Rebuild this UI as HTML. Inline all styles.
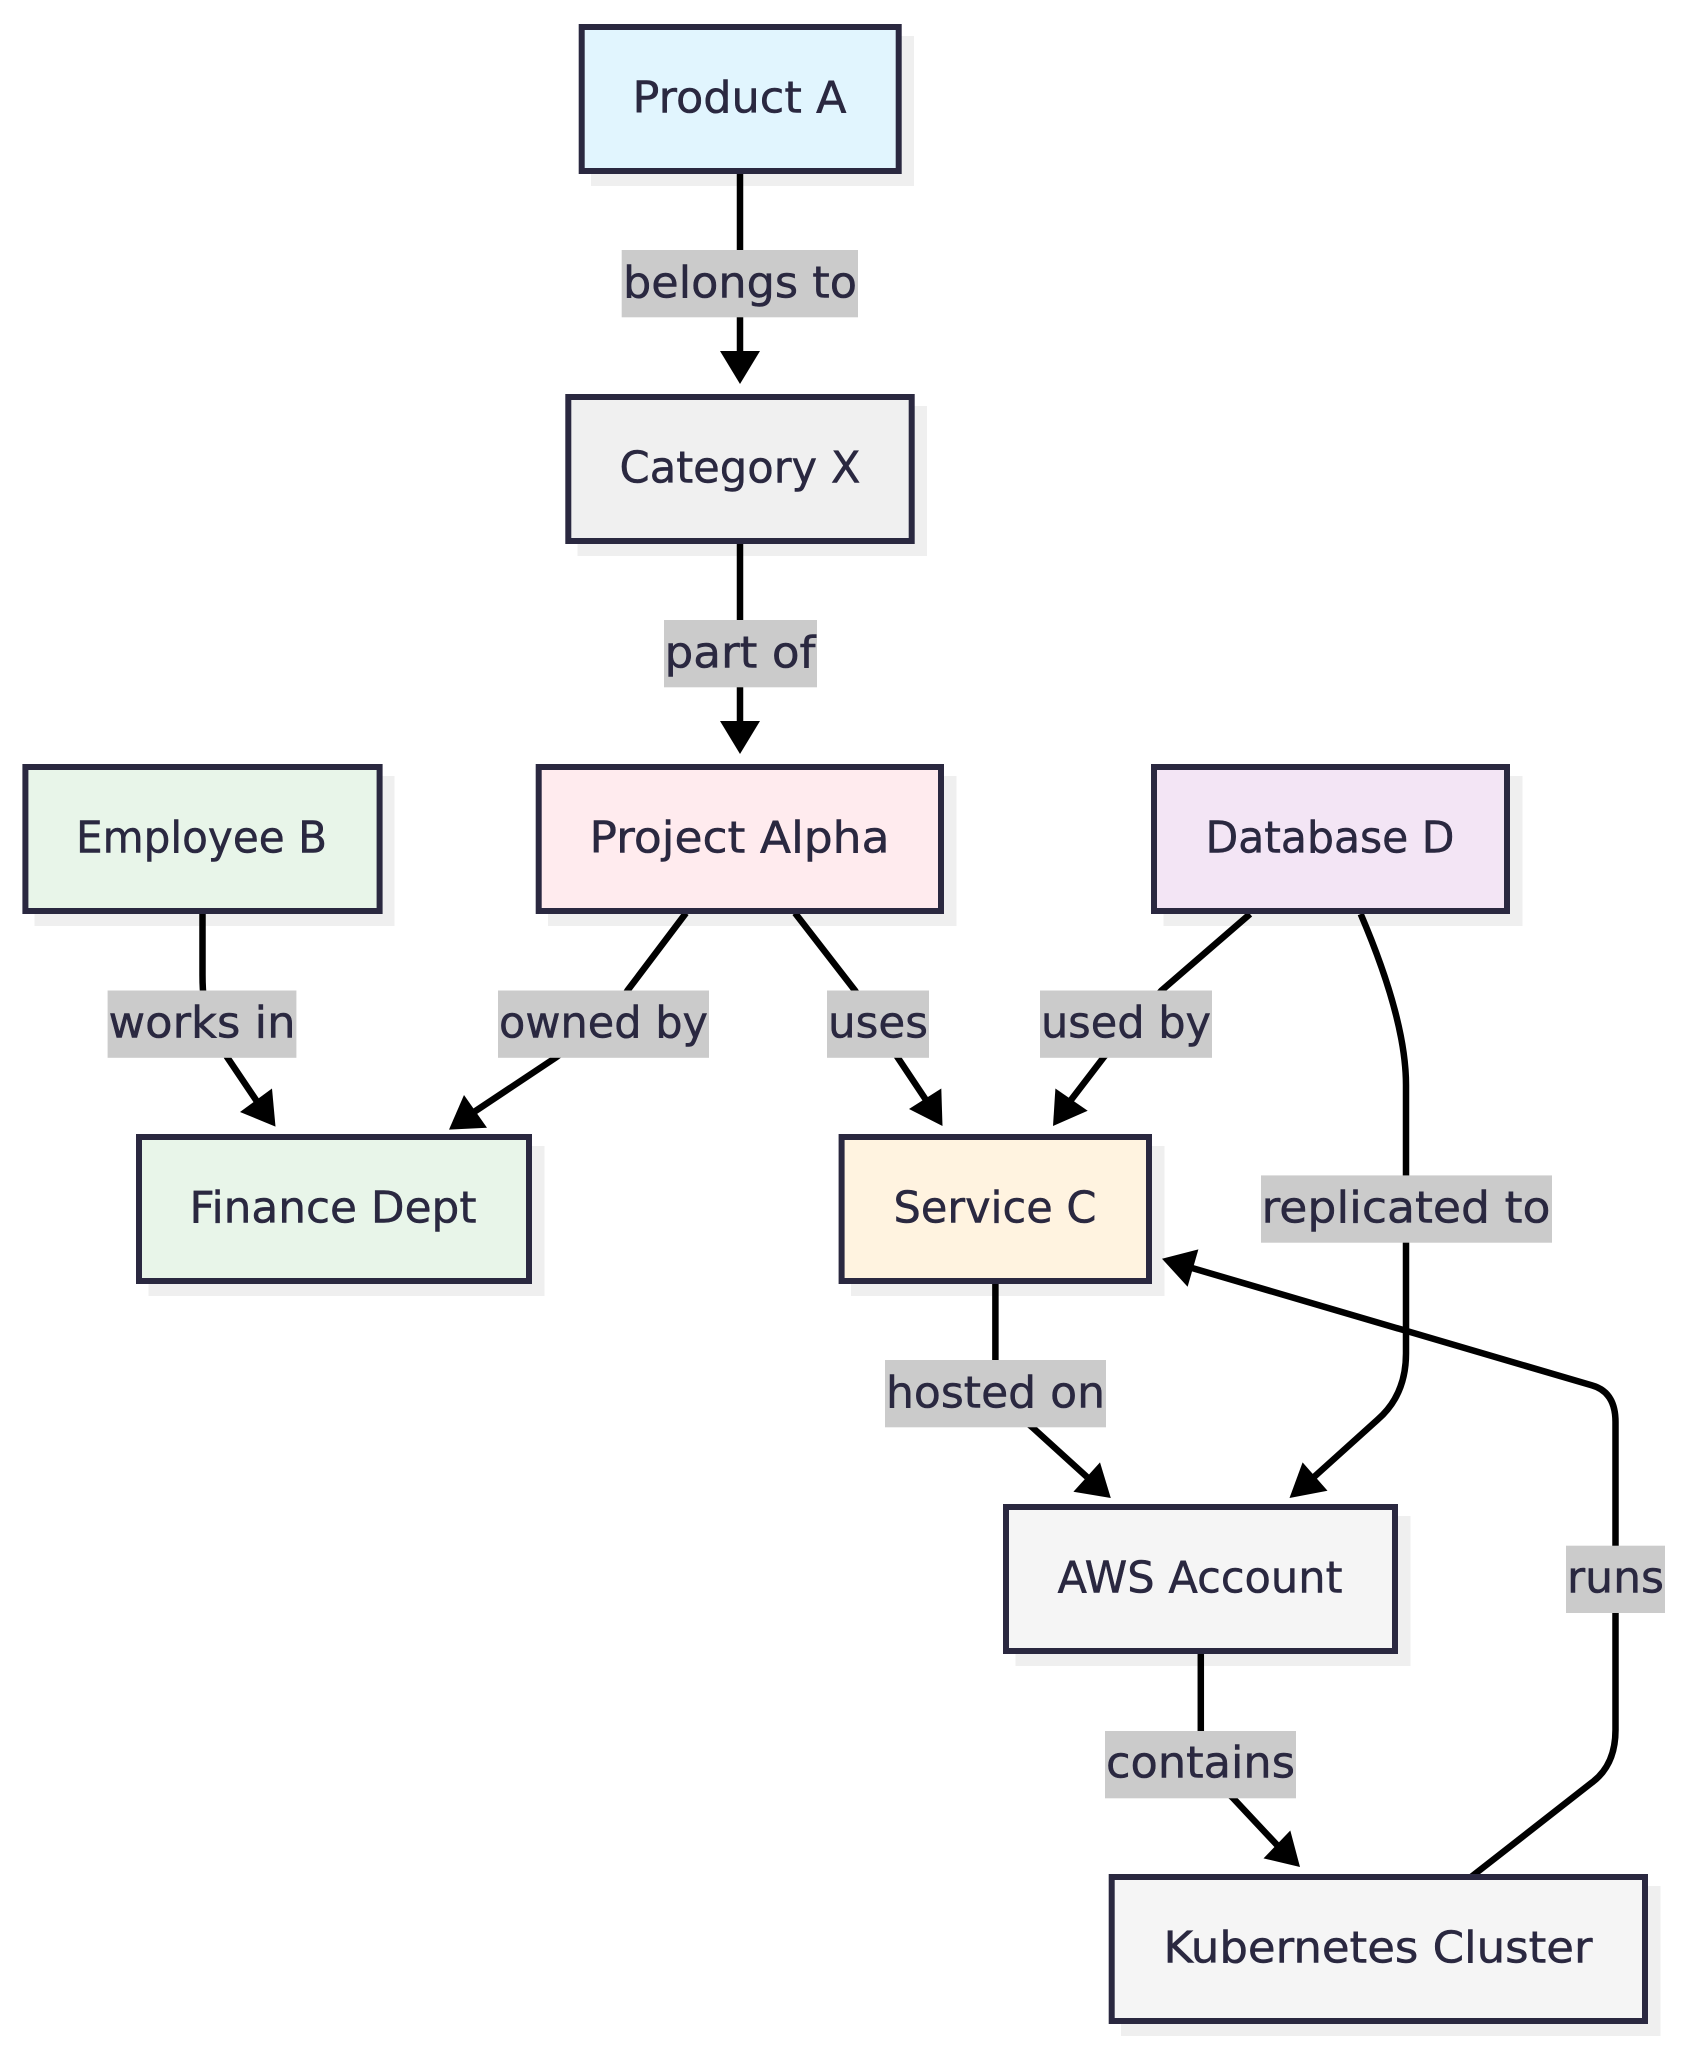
<!DOCTYPE html>
<html>
<head>
<meta charset="utf-8">
<style>
html,body{margin:0;padding:0;background:#fff;width:1690px;height:2048px;overflow:hidden}
svg{display:block}
text{font-family:"DejaVu Sans","Liberation Sans",sans-serif;font-size:44px;fill:#2a2840;stroke:#2a2840;stroke-width:.5px;text-anchor:middle}
.n{stroke:#2a2840;stroke-width:6}
.s{fill:#efefef}
.e{fill:none;stroke:#000;stroke-width:6.5}
.l{fill:#cbcbcb}
</style>
</head>
<body>
<svg width="1690" height="2048" viewBox="0 0 1690 2048" xmlns="http://www.w3.org/2000/svg">
<!-- shadows -->
<rect class="s" x="591" y="36" width="323" height="150"/>
<rect class="s" x="577.5" y="406" width="349.5" height="150"/>
<rect class="s" x="34.5" y="776" width="360" height="150"/>
<rect class="s" x="548" y="776" width="408.5" height="150"/>
<rect class="s" x="1163.5" y="776" width="359" height="150"/>
<rect class="s" x="148.5" y="1146" width="396" height="150"/>
<rect class="s" x="851" y="1146" width="313.5" height="150"/>
<rect class="s" x="1015.5" y="1516" width="395" height="150"/>
<rect class="s" x="1121" y="1886" width="539.5" height="150"/>
<!-- edges -->
<path class="e" d="M740 174V352"/>
<path class="e" d="M740 544V722"/>
<path class="e" d="M202.5 913V975Q202.5 990 204 1000L227 1057L258 1103"/>
<path class="e" d="M686 913L627.5 990.5Q620 1003 600 1024L556 1057.4L474 1112"/>
<path class="e" d="M795 913L855 990.5L897.6 1057.4L926 1100"/>
<path class="e" d="M1250 914L1161.5 990.5L1103.6 1057.4L1071 1100"/>
<path class="e" d="M1360.7 914Q1406 1020 1406 1085V1353.5Q1406 1395 1377.6 1419.7L1314 1477"/>
<path class="e" d="M995.4 1284V1380Q995.4 1395 1010 1408L1032 1427L1087 1477"/>
<path class="e" d="M1200.8 1654V1750Q1200.8 1765 1212 1778L1233 1798L1277 1845"/>
<path class="e" d="M1471 1877L1592 1782.5Q1615.5 1765 1615.5 1730V1422Q1615.5 1392 1592 1385.4L1192 1268"/>
<!-- arrowheads -->
<polygon points="720,351 760,351 740,384"/>
<polygon points="720,721 760,721 740,754"/>
<polygon points="240,1112 272,1088.5 275.5,1126.6"/>
<polygon points="464,1095 487,1127.7 449,1129.6"/>
<polygon points="909,1109 941.3,1088.5 942.5,1126"/>
<polygon points="1055.4,1088.5 1087.7,1110.7 1053,1126"/>
<polygon points="1302.6,1462.4 1327.5,1490.8 1289.5,1498"/>
<polygon points="1073.4,1491.8 1100,1462.4 1110.8,1498"/>
<polygon points="1263.5,1858.4 1290.3,1830.5 1300,1867"/>
<polygon points="1198.4,1249.4 1187.6,1286.8 1162,1258.7"/>
<!-- nodes -->
<rect class="n" fill="#e1f5fe" x="581.7" y="27" width="317" height="144"/>
<text x="739.5" y="112.5" textLength="214" lengthAdjust="spacingAndGlyphs">Product A</text>
<rect class="n" fill="#f0f0f0" x="568.3" y="397" width="343.4" height="144"/>
<text x="740" y="482.5" textLength="241" lengthAdjust="spacingAndGlyphs">Category X</text>
<rect class="n" fill="#e8f5e9" x="25.4" y="767" width="354.2" height="144"/>
<text x="201.5" y="852.5" textLength="251" lengthAdjust="spacingAndGlyphs">Employee B</text>
<rect class="n" fill="#ffebee" x="538.7" y="767" width="402.3" height="144"/>
<text x="739.5" y="852.5" textLength="300" lengthAdjust="spacingAndGlyphs">Project Alpha</text>
<rect class="n" fill="#f3e5f5" x="1154" y="767" width="353" height="144"/>
<text x="1330" y="852.5" textLength="249" lengthAdjust="spacingAndGlyphs">Database D</text>
<rect class="n" fill="#e8f5e9" x="139" y="1137" width="390" height="144"/>
<text x="333" y="1222.5" textLength="287" lengthAdjust="spacingAndGlyphs">Finance Dept</text>
<rect class="n" fill="#fff3e0" x="841.6" y="1137" width="307.4" height="144"/>
<text x="995" y="1222.5" textLength="203" lengthAdjust="spacingAndGlyphs">Service C</text>
<rect class="n" fill="#f5f5f5" x="1006" y="1507" width="389" height="144"/>
<text x="1200" y="1592.5" textLength="285" lengthAdjust="spacingAndGlyphs">AWS Account</text>
<rect class="n" fill="#f5f5f5" x="1111.7" y="1877" width="533.3" height="144"/>
<text x="1378" y="1962.5" textLength="429" lengthAdjust="spacingAndGlyphs">Kubernetes Cluster</text>
<!-- edge labels -->
<rect class="l" x="621.7" y="250" width="236.3" height="67.3"/>
<text x="740" y="297.5" textLength="234" lengthAdjust="spacingAndGlyphs">belongs to</text>
<rect class="l" x="664" y="620" width="153" height="67.3"/>
<text x="740" y="667.5" textLength="151" lengthAdjust="spacingAndGlyphs">part of</text>
<rect class="l" x="107.6" y="990.5" width="188.8" height="67.3"/>
<text x="202" y="1037.5" textLength="187" lengthAdjust="spacingAndGlyphs">works in</text>
<rect class="l" x="498" y="990.5" width="211" height="67.3"/>
<text x="603.5" y="1037.5" textLength="209" lengthAdjust="spacingAndGlyphs">owned by</text>
<rect class="l" x="827" y="990.5" width="102" height="67.3"/>
<text x="878" y="1037.5" textLength="100" lengthAdjust="spacingAndGlyphs">uses</text>
<rect class="l" x="1040" y="990.5" width="172" height="67.3"/>
<text x="1126" y="1037.5" textLength="170" lengthAdjust="spacingAndGlyphs">used by</text>
<rect class="l" x="1261" y="1175.4" width="291" height="67.3"/>
<text x="1406" y="1222.5" textLength="289" lengthAdjust="spacingAndGlyphs">replicated to</text>
<rect class="l" x="885" y="1360" width="221" height="67.3"/>
<text x="995.5" y="1407.5" textLength="219" lengthAdjust="spacingAndGlyphs">hosted on</text>
<rect class="l" x="1105" y="1731" width="191" height="67.3"/>
<text x="1200.5" y="1777.5" textLength="189" lengthAdjust="spacingAndGlyphs">contains</text>
<rect class="l" x="1566" y="1545.7" width="99" height="67.3"/>
<text x="1615.5" y="1592.5" textLength="97" lengthAdjust="spacingAndGlyphs">runs</text>
</svg>
</body>
</html>
